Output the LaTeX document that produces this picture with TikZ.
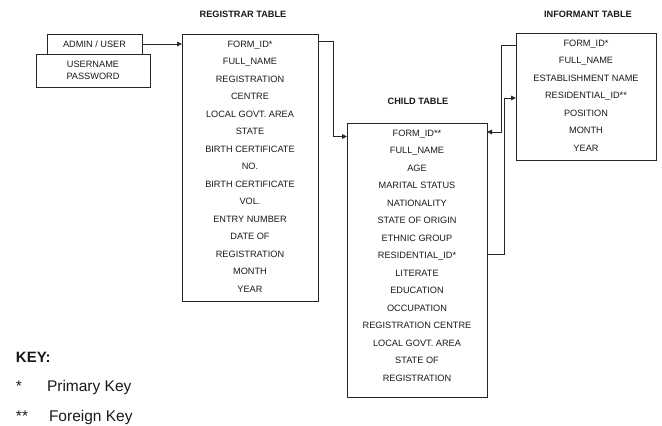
\documentclass[tikz,border=0pt]{standalone}
\usepackage{fontspec}
\setmainfont{Liberation Sans}
\usetikzlibrary{arrows.meta,calc}
\begin{document}
\begin{tikzpicture}[x=1pt,y=-1pt,
  every node/.style={inner sep=0pt, outer sep=0pt, text=black!90},
  tablebox/.style={draw=black!85, line width=0.9pt, rectangle},
  rowtxt/.style={anchor=base, font=\fontsize{9.2}{11}\selectfont},
  ttl/.style={font=\fontsize{9.2}{11}\selectfont\bfseries},
  link/.style={draw=black!85, line width=0.9pt},
  arr/.style={link, -{Triangle[length=5pt,width=4.5pt]}},
  keytxt/.style={anchor=base west, font=\fontsize{15.5}{17}\selectfont}]
\useasboundingbox (0,0) rectangle (662,426);

% login boxes
\node[tablebox, minimum width=95, minimum height=20, font=\fontsize{9.2}{11}\selectfont] (admin) at (94.5,44) {ADMIN / USER};
\node[tablebox, minimum width=114, minimum height=33, align=center, font=\fontsize{9.2}{12}\selectfont] (login) at (93,70.5) {USERNAME\\PASSWORD};

% table frames
\node[tablebox, minimum width=136, minimum height=267] (reg) at (250,167.5) {};
\node[tablebox, minimum width=140, minimum height=274] (child) at (417,260) {};
\node[tablebox, minimum width=140, minimum height=127] (inf) at (586,96.5) {};

% titles
\node[ttl] (regtitle) at (243,14) {REGISTRAR TABLE};
\node[ttl] (childtitle) at (418,101) {CHILD TABLE};
\node[ttl] (inftitle) at (588,14) {INFORMANT TABLE};

% registrar fields
\foreach \t [count=\i] in {FORM\_ID*, FULL\_NAME, REGISTRATION, CENTRE, LOCAL GOVT. AREA, STATE, BIRTH CERTIFICATE, NO., BIRTH CERTIFICATE, VOL., ENTRY NUMBER, DATE OF, REGISTRATION, MONTH, YEAR}
  \node[rowtxt] (reg-\i) at (250,{44+17.5*(\i-1)+3.3}) {\t};

% child fields
\foreach \t [count=\i] in {FORM\_ID**, FULL\_NAME, AGE, MARITAL STATUS, NATIONALITY, STATE OF ORIGIN, ETHNIC GROUP, RESIDENTIAL\_ID*, LITERATE, EDUCATION, OCCUPATION, REGISTRATION CENTRE, LOCAL GOVT. AREA, STATE OF, REGISTRATION}
  \node[rowtxt] (child-\i) at (417,{133+17.5*(\i-1)+3.3}) {\t};

% informant fields
\foreach \t [count=\i] in {FORM\_ID*, FULL\_NAME, ESTABLISHMENT NAME, RESIDENTIAL\_ID**, POSITION, MONTH, YEAR}
  \node[rowtxt] (inf-\i) at (586,{43+17.5*(\i-1)+3.3}) {\t};

% connectors
\draw[arr] (admin.east) -- (admin.east -| reg.west);
\draw[arr] ($(reg.north east)+(0,7.5)$) -- ++(15,0) |- ($(child.north west)+(0,13.5)$);
\draw[arr] ($(inf.north west)+(0,12.5)$) -- ++(-15,0) |- ($(child.north east)+(0,9)$);
\draw[arr] ($(child.north east)+(0,131)$) -- ++(17,0) |- ($(inf.north west)+(0,65)$);

% key
\node[anchor=base west, font=\fontsize{15}{17}\selectfont\bfseries] (keyhead) at (16,362.5) {KEY:};
\node[keytxt] (k1s) at (16,391.5) {*};
\node[keytxt] (k1) at (47,391.5) {Primary Key};
\node[keytxt] (k2s) at (16,421.5) {**};
\node[keytxt] (k2) at (49,421.5) {Foreign Key};
\end{tikzpicture}
\end{document}
